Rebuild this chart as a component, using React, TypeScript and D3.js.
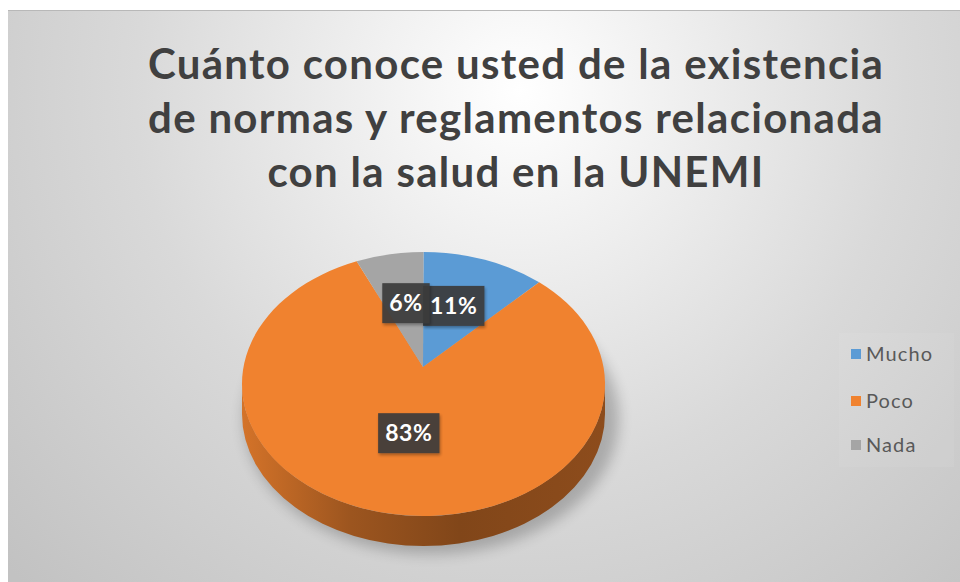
import * as d3 from 'd3';
import { useEffect, useRef } from 'react';

const categories = ['Mucho', 'Poco', 'Nada'];
const values = [11, 83, 6];
const colors = ['#5b9bd5', '#f0822f', '#a5a5a5'];
const titleLines = [
  'Cuánto conoce usted de la existencia',
  'de normas y reglamentos relacionada',
  'con la salud en la UNEMI',
];

const W = 960;
const H = 582;

const App = () => {
  const svgRef = useRef(null);

  useEffect(() => {
    const svg = d3.select(svgRef.current);
    svg.selectAll('*').remove();

    const defs = svg.append('defs');

    // background gradient like the Excel chart area
    const bg = defs.append('radialGradient')
      .attr('id', 'bg')
      .attr('gradientUnits', 'userSpaceOnUse')
      .attr('cx', 520).attr('cy', 90).attr('r', 700);
    bg.append('stop').attr('offset', '0%').attr('stop-color', '#ffffff');
    bg.append('stop').attr('offset', '55%').attr('stop-color', '#d9d9d9');
    bg.append('stop').attr('offset', '100%').attr('stop-color', '#c2c2c2');

    const blur = defs.append('filter').attr('id', 'blur')
      .attr('x', '-20%').attr('y', '-20%').attr('width', '140%').attr('height', '140%');
    blur.append('feGaussianBlur').attr('stdDeviation', 7);

    const lblShadow = defs.append('filter').attr('id', 'lblShadow');
    lblShadow.append('feDropShadow')
      .attr('dx', 1).attr('dy', 2).attr('stdDeviation', 1.5)
      .attr('flood-color', '#000').attr('flood-opacity', 0.35);

    svg.append('rect').attr('width', W).attr('height', H).attr('fill', '#fff');
    svg.append('rect')
      .attr('x', 8).attr('y', 10).attr('width', W - 8).attr('height', H - 10)
      .attr('fill', 'url(#bg)');
    svg.append('line')
      .attr('x1', 8).attr('x2', W).attr('y1', 10.5).attr('y2', 10.5)
      .attr('stroke', '#b8b8b8').attr('stroke-width', 1);

    // title
    svg.append('g')
      .selectAll('text')
      .data(titleLines)
      .enter()
      .append('text')
      .attr('x', 516)
      .attr('y', (d, i) => 79 + i * 54)
      .attr('text-anchor', 'middle')
      .attr('font-family', 'Lato, "Open Sans", sans-serif')
      .attr('font-weight', 700)
      .attr('font-size', 42)
      .attr('letter-spacing', 1.3)
      .attr('fill', '#404040')
      .text((d) => d);

    // 3D pie geometry
    const cx = 423.5;
    const ecy = 384;
    const rx = 181.5;
    const ry = 132;
    const apex = [423, 367];
    const depth = 30;
    const pt = (t, dy = 0) => [cx + rx * Math.sin(t), ecy - ry * Math.cos(t) + dy];

    const arcs = d3.pie().sort(null).value((d) => d)(values);

    const g = svg.append('g');

    // soft shadow beneath the pie
    g.append('ellipse')
      .attr('cx', cx + 8).attr('cy', ecy + depth + 4)
      .attr('rx', rx + 6).attr('ry', ry + 4)
      .attr('fill', '#000').attr('opacity', 0.22)
      .attr('filter', 'url(#blur)');

    // side walls (front half only)
    arcs.forEach((a, i) => {
      const grad = defs.append('linearGradient')
        .attr('id', `side${i}`)
        .attr('gradientUnits', 'userSpaceOnUse')
        .attr('x1', cx - rx).attr('x2', cx + rx).attr('y1', 0).attr('y2', 0);
      const base = d3.color(colors[i]);
      grad.append('stop').attr('offset', '0%').attr('stop-color', base.darker(0.35).formatHex());
      grad.append('stop').attr('offset', '30%').attr('stop-color', base.darker(1.2).formatHex());
      grad.append('stop').attr('offset', '60%').attr('stop-color', base.darker(1.75).formatHex());
      grad.append('stop').attr('offset', '100%').attr('stop-color', base.darker(1.5).formatHex());

      const s = Math.max(a.startAngle, Math.PI / 2);
      const e = Math.min(a.endAngle, (3 * Math.PI) / 2);
      if (e <= s) return;
      const p0 = pt(s);
      const p1 = pt(e);
      const q1 = pt(e, depth);
      const q0 = pt(s, depth);
      const large = e - s > Math.PI ? 1 : 0;
      g.append('path')
        .attr('d', `M${p0}A${rx},${ry} 0 ${large} 1 ${p1}L${q1}A${rx},${ry} 0 ${large} 0 ${q0}Z`)
        .attr('fill', `url(#side${i})`);
    });

    // top faces
    arcs.forEach((a, i) => {
      const p0 = pt(a.startAngle);
      const p1 = pt(a.endAngle);
      const large = a.endAngle - a.startAngle > Math.PI ? 1 : 0;
      g.append('path')
        .attr('d', `M${apex}L${p0}A${rx},${ry} 0 ${large} 1 ${p1}Z`)
        .attr('fill', colors[i]);
    });

    // data labels
    const total = d3.sum(values);
    const lr = 0.5;
    arcs.forEach((a) => {
      const m = (a.startAngle + a.endAngle) / 2;
      const x = apex[0] + rx * lr * Math.sin(m);
      const y = apex[1] - ry * lr * Math.cos(m) + 1;
      const txt = `${Math.round((a.value / total) * 100)}%`;
      const lg = g.append('g');
      const rect = lg.append('rect')
        .attr('fill', '#3a3a3a').attr('opacity', 0.92)
        .attr('filter', 'url(#lblShadow)');
      const t = lg.append('text')
        .attr('x', x).attr('y', y)
        .attr('text-anchor', 'middle').attr('dy', '0.36em')
        .attr('font-family', 'Lato, "Open Sans", sans-serif')
        .attr('font-weight', 700).attr('font-size', 23)
        .attr('letter-spacing', 0.6)
        .attr('fill', '#ffffff')
        .text(txt);
      const w = t.node().getComputedTextLength() + 14;
      rect.attr('x', x - w / 2).attr('y', y - 20).attr('width', w).attr('height', 40);
    });

    // legend
    const leg = svg.append('g').attr('transform', 'translate(851,354)');
    leg.append('rect')
      .attr('x', -12).attr('y', -21).attr('width', 115).attr('height', 134)
      .attr('fill', '#fff').attr('opacity', 0.06);
    const items = leg.selectAll('g.item')
      .data(categories)
      .enter()
      .append('g')
      .attr('class', 'item')
      .attr('transform', (d, i) => `translate(0,${[0, 47, 91][i]})`);
    items.append('rect')
      .attr('x', 0).attr('y', -5).attr('width', 10).attr('height', 10)
      .attr('fill', (d, i) => colors[i]);
    items.append('text')
      .attr('x', 15).attr('dy', '0.36em')
      .attr('font-family', 'Lato, "Open Sans", sans-serif')
      .attr('font-size', 20)
      .attr('letter-spacing', 1.1)
      .attr('fill', '#595959')
      .text((d) => d);

    return () => {
      svg.selectAll('*').remove();
    };
  }, []);

  return (
    <svg
      ref={svgRef}
      width={W}
      height={H}
      style={{ position: 'absolute', left: 0, top: 0 }}
    />
  );
};

export default App;
